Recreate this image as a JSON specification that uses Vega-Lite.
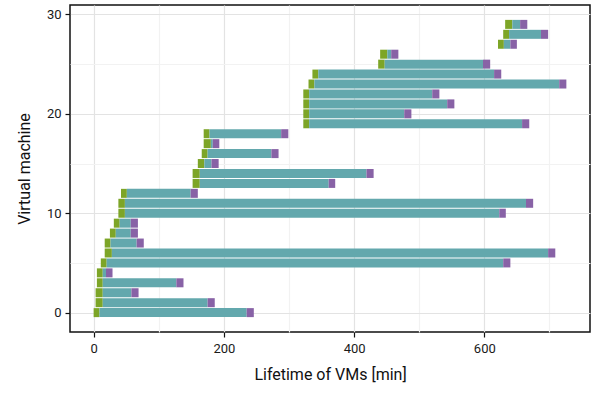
{
  "$schema": "https://vega.github.io/schema/vega-lite/v6.json",
  "width": 520,
  "height": 327,
  "autosize": {"type": "none"},
  "padding": {"left": 70, "top": 5, "right": 7, "bottom": 61},
  "config": {
    "view": {"stroke": "#111", "strokeWidth": 1.5},
    "font": "Roboto",
    "axis": {
      "labelFont": "Roboto",
      "titleFont": "Roboto",
      "labelFontSize": 13,
      "titleFontSize": 16,
      "titleFontWeight": "normal",
      "labelColor": "#1a1a1a",
      "titleColor": "#111",
      "tickColor": "#111",
      "tickSize": 5,
      "tickWidth": 1.2,
      "domain": false,
      "gridColor": "#e3e3e3",
      "gridWidth": 1.2
    }
  },
  "data": {
    "values": [
      {"vm": 0, "start": 0, "ready": 9, "stop": 235, "end": 246},
      {"vm": 1, "start": 3, "ready": 14, "stop": 175, "end": 186},
      {"vm": 2, "start": 3, "ready": 14, "stop": 58, "end": 69},
      {"vm": 3, "start": 5, "ready": 14, "stop": 127, "end": 138},
      {"vm": 4, "start": 5, "ready": 14, "stop": 19, "end": 29},
      {"vm": 5, "start": 11, "ready": 20, "stop": 629, "end": 640},
      {"vm": 6, "start": 17, "ready": 28, "stop": 698, "end": 709},
      {"vm": 7, "start": 17, "ready": 26, "stop": 66, "end": 77},
      {"vm": 8, "start": 25, "ready": 34, "stop": 57, "end": 68},
      {"vm": 9, "start": 31, "ready": 40, "stop": 57, "end": 68},
      {"vm": 10, "start": 38, "ready": 48, "stop": 623, "end": 633},
      {"vm": 11, "start": 38, "ready": 48, "stop": 664, "end": 675},
      {"vm": 12, "start": 42, "ready": 51, "stop": 149, "end": 160},
      {"vm": 13, "start": 152, "ready": 163, "stop": 361, "end": 371},
      {"vm": 14, "start": 152, "ready": 163, "stop": 419, "end": 430},
      {"vm": 15, "start": 160, "ready": 170, "stop": 181, "end": 192},
      {"vm": 16, "start": 166, "ready": 175, "stop": 273, "end": 284},
      {"vm": 17, "start": 169, "ready": 180, "stop": 183, "end": 193},
      {"vm": 18, "start": 169, "ready": 178, "stop": 288, "end": 299},
      {"vm": 19, "start": 322, "ready": 331, "stop": 658, "end": 669},
      {"vm": 20, "start": 322, "ready": 331, "stop": 477, "end": 488},
      {"vm": 21, "start": 322, "ready": 331, "stop": 543, "end": 554},
      {"vm": 22, "start": 322, "ready": 331, "stop": 520, "end": 531},
      {"vm": 23, "start": 330, "ready": 339, "stop": 715, "end": 726},
      {"vm": 24, "start": 336, "ready": 345, "stop": 615, "end": 626},
      {"vm": 25, "start": 437, "ready": 447, "stop": 598, "end": 609},
      {"vm": 26, "start": 440, "ready": 451, "stop": 457, "end": 468},
      {"vm": 27, "start": 621, "ready": 630, "stop": 640, "end": 650},
      {"vm": 28, "start": 629, "ready": 638, "stop": 687, "end": 698},
      {"vm": 29, "start": 632, "ready": 643, "stop": 655, "end": 666}
    ]
  },
  "resolve": {"axis": {"x": "independent", "y": "independent"}},
  "layer": [
    {
      "mark": {"type": "bar", "size": 9, "color": "#7da527", "opacity": 1},
      "encoding": {
        "x": {
          "field": "start", "type": "quantitative",
          "scale": {"domain": [-36.3, 762.3], "nice": false, "zero": false, "padding": 0},
          "axis": {"orient": "bottom", "values": [100, 300, 500, 700], "labels": false, "ticks": false, "title": null, "grid": true, "gridColor": "#f2f2f2"}
        },
        "x2": {"field": "ready"},
        "y": {
          "field": "vm", "type": "quantitative",
          "scale": {"domain": [-1.95, 30.95], "nice": false, "zero": false, "padding": 0},
          "axis": {"orient": "left", "values": [5, 15, 25], "labels": false, "ticks": false, "title": null, "grid": true, "gridColor": "#f2f2f2"}
        }
      }
    },
    {
      "mark": {"type": "bar", "size": 9, "color": "#63a8ad", "opacity": 1},
      "encoding": {
        "x": {
          "field": "ready", "type": "quantitative",
          "axis": {"orient": "bottom", "values": [0, 200, 400, 600], "grid": true, "title": "Lifetime of VMs [min]", "labelPadding": 5, "titlePadding": 11}
        },
        "x2": {"field": "stop"},
        "y": {
          "field": "vm", "type": "quantitative",
          "axis": {"orient": "left", "values": [0, 10, 20, 30], "grid": true, "title": "Virtual machine", "labelPadding": 4, "titlePadding": 14}
        }
      }
    },
    {
      "mark": {"type": "bar", "size": 9, "color": "#8862a6", "opacity": 1},
      "encoding": {
        "x": {"field": "stop", "type": "quantitative", "axis": null},
        "x2": {"field": "end"},
        "y": {"field": "vm", "type": "quantitative", "axis": null}
      }
    }
  ]
}
